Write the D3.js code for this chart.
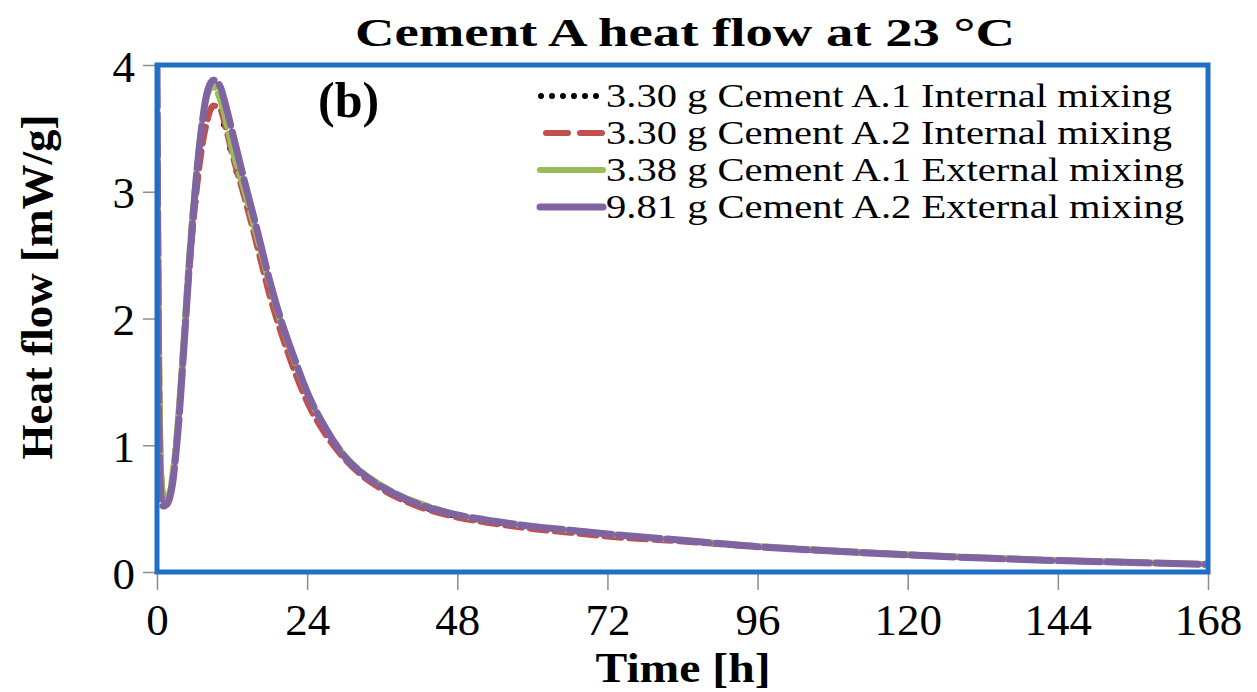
<!DOCTYPE html>
<html>
<head>
<meta charset="utf-8">
<script src="https://cdn.jsdelivr.net/npm/d3@7"></script>
<style>
  body { margin: 0; background: #fff; }
  svg { display: block; }
  text { font-family: "Liberation Serif", "Times New Roman", serif; fill: #000; }
</style>
</head>
<body>
<svg id="chart"></svg>
<script>
var width = 1257;
var height = 692;

// time in hours
var time = [0, 0.3, 0.6, 1, 1.5, 2, 2.5, 3, 3.5, 4, 4.5, 5, 6, 7, 8, 9, 10, 11, 12, 14, 16, 18, 20, 22, 24, 27, 30, 33, 36, 40, 44, 48, 54, 60, 66, 72, 84, 96, 108, 120, 132, 144, 156, 168];

// heat flow in mW/g
var a1Internal = [4.0, 1.6, 0.75, 0.56, 0.54, 0.6, 0.76, 0.98, 1.28, 1.6, 1.95, 2.3, 2.85, 3.3, 3.58, 3.67, 3.62, 3.48, 3.28, 2.96, 2.6, 2.22, 1.9, 1.62, 1.37, 1.1, 0.9, 0.76, 0.66, 0.56, 0.49, 0.44, 0.39, 0.35, 0.32, 0.29, 0.245, 0.2, 0.165, 0.135, 0.11, 0.09, 0.075, 0.06];
var a2Internal = [4.0, 1.8, 0.8, 0.58, 0.55, 0.6, 0.74, 0.95, 1.25, 1.58, 1.93, 2.28, 2.85, 3.28, 3.55, 3.68, 3.66, 3.5, 3.3, 2.95, 2.57, 2.18, 1.86, 1.58, 1.34, 1.08, 0.89, 0.75, 0.65, 0.55, 0.48, 0.43, 0.38, 0.34, 0.31, 0.28, 0.24, 0.2, 0.165, 0.135, 0.11, 0.09, 0.075, 0.06];
var a1External = [4.0, 2.0, 0.9, 0.62, 0.58, 0.63, 0.78, 1.0, 1.3, 1.65, 2.02, 2.4, 3.0, 3.48, 3.76, 3.83, 3.74, 3.56, 3.34, 3.0, 2.64, 2.27, 1.94, 1.66, 1.41, 1.13, 0.92, 0.78, 0.68, 0.58, 0.51, 0.45, 0.4, 0.36, 0.33, 0.3, 0.25, 0.205, 0.17, 0.14, 0.115, 0.095, 0.078, 0.063];
var a2External = [4.0, 1.2, 0.62, 0.52, 0.53, 0.58, 0.7, 0.92, 1.2, 1.55, 1.92, 2.3, 2.95, 3.45, 3.78, 3.88, 3.84, 3.68, 3.48, 3.08, 2.7, 2.3, 1.96, 1.68, 1.42, 1.13, 0.91, 0.77, 0.67, 0.57, 0.5, 0.45, 0.4, 0.36, 0.33, 0.3, 0.25, 0.2, 0.165, 0.135, 0.11, 0.09, 0.075, 0.06];

var seriesNames = ["3.30 g Cement A.1 Internal mixing", "3.30 g Cement A.2 Internal mixing", "3.38 g Cement A.1 External mixing", "9.81 g Cement A.2 External mixing"];
var seriesValues = [a1Internal, a2Internal, a1External, a2External];

var xTicks = [0, 24, 48, 72, 96, 120, 144, 168];
var yTicks = [0, 1, 2, 3, 4];

var margin = {left: 157, right: 49, top: 65, bottom: 120};

var x = d3.scaleLinear().domain([0, 168]).range([margin.left, width - margin.right]);
var y = d3.scaleLinear().domain([0, 4]).range([height - margin.bottom, margin.top]);

var styles = [
    {color: "#000000", w: 6, dash: "0 11", plotDash: "0 24"},
    {color: "#c0504d", w: 6, dash: "22 12", plotDash: "17 8"},
    {color: "#9bbb59", w: 6, dash: null, plotDash: "34 7"},
    {color: "#8064a2", w: 7, dash: null, plotDash: "42 7"}
];

var svg = d3.select("#chart")
    .attr("width", width)
    .attr("height", height);

svg.append("rect").attr("width", width).attr("height", height).attr("fill", "#fff");

// title
svg.append("text")
    .attr("x", 685)
    .attr("y", 46)
    .attr("text-anchor", "middle")
    .attr("font-size", 40)
    .attr("font-weight", "bold")
    .attr("textLength", 660)
    .attr("lengthAdjust", "spacingAndGlyphs")
    .text("Cement A heat flow at 23 °C");

// axes
var xAxis = svg.append("g")
    .attr("transform", "translate(0," + y(0) + ")")
    .call(d3.axisBottom(x).tickValues(xTicks).tickSize(18).tickPadding(14));
var yAxis = svg.append("g")
    .attr("transform", "translate(" + x(0) + ",0)")
    .call(d3.axisLeft(y).tickValues(yTicks).tickFormat(d3.format("d")).tickSize(14).tickPadding(10));

[xAxis, yAxis].forEach(function(a){
    a.select(".domain").remove();
    a.selectAll(".tick line").attr("stroke", "#8c8c8c").attr("stroke-width", 1.5);
    a.selectAll(".tick text")
        .attr("font-size", 45)
        .attr("fill", "#000");
});
xAxis.selectAll(".tick text").attr("dy", "0.68em");
yAxis.selectAll(".tick text").attr("dy", "0.36em").attr("x", -22);

// clip for the curves
svg.append("clipPath").attr("id", "plotClip")
    .append("rect")
    .attr("x", x(0))
    .attr("y", y(4))
    .attr("width", x(168) - x(0))
    .attr("height", y(0) - y(4));

var line = d3.line()
    .x(function(d){ return x(d[0]); })
    .y(function(d){ return y(d[1]); })
    .curve(d3.curveMonotoneX);

var plot = svg.append("g").attr("clip-path", "url(#plotClip)");
for (var i = 0; i < seriesValues.length; i++) {
    var pts = time.map(function(t, j){ return [t, seriesValues[i][j]]; });
    plot.append("path")
        .attr("d", line(pts))
        .attr("fill", "none")
        .attr("stroke", styles[i].color)
        .attr("stroke-width", styles[i].w)
        .attr("stroke-linecap", "round")
        .attr("stroke-dasharray", styles[i].plotDash);
}

// blue plot border
svg.append("rect")
    .attr("x", x(0))
    .attr("y", y(4))
    .attr("width", x(168) - x(0))
    .attr("height", y(0) - y(4))
    .attr("fill", "none")
    .attr("stroke", "#1f6fc6")
    .attr("stroke-width", 5);

// panel label
svg.append("text")
    .attr("x", 318)
    .attr("y", 117)
    .attr("font-size", 50)
    .attr("font-weight", "bold")
    .text("(b)");

// legend
var legend = svg.append("g");
for (var k = 0; k < seriesNames.length; k++) {
    var ly = 96 + k * 37;
    legend.append("line")
        .attr("x1", k == 0 ? 541 : (k == 1 ? 546 : 540))
        .attr("x2", 603)
        .attr("y1", ly)
        .attr("y2", ly)
        .attr("stroke", styles[k].color)
        .attr("stroke-width", styles[k].w)
        .attr("stroke-linecap", "round")
        .attr("stroke-dasharray", styles[k].dash);
    legend.append("text")
        .attr("x", 606)
        .attr("y", ly + 11)
        .attr("font-size", 34)
        .attr("textLength", k < 2 ? 566 : 578)
        .attr("lengthAdjust", "spacingAndGlyphs")
        .text(seriesNames[k]);
}

// axis titles
svg.append("text")
    .attr("transform", "translate(52,287) rotate(-90)")
    .attr("text-anchor", "middle")
    .attr("font-size", 45)
    .attr("font-weight", "bold")
    .text("Heat flow [mW/g]");

svg.append("text")
    .attr("x", 683)
    .attr("y", 682)
    .attr("text-anchor", "middle")
    .attr("font-size", 42)
    .attr("font-weight", "bold")
    .attr("textLength", 175)
    .attr("lengthAdjust", "spacingAndGlyphs")
    .text("Time  [h]");
</script>
</body>
</html>
